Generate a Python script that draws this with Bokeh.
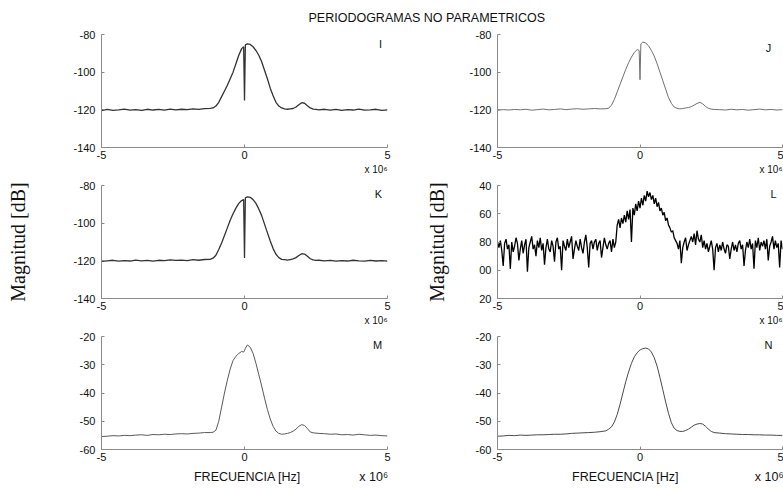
import numpy as np
from bokeh.plotting import figure
from bokeh.layouts import column, row
from bokeh.models import Range1d, FixedTicker, Label, Title
from bokeh.embed import file_html
from bokeh.resources import INLINE

TITLE = "PERIODOGRAMAS NO PARAMETRICOS"
Y_LABEL = "Magnitud [dB]"
X_LABEL = "FRECUENCIA [Hz]"
X_MULT = "x 10\u2076"
NBSP = "\u00a0"
X_LABEL_PAD = [(27, 17), (22, 22)]   # (before, between) per column
X_TICKS = [-5, 0, 5]
X_TICK_LABELS = ["-5", "0", "5"]

# frequency (x 10^6 Hz) for the smooth periodograms
FREQ = [-5.0, -4.8, -4.6, -4.4, -4.2, -4.0, -3.8, -3.6, -3.4, -3.2,
        -3.0, -2.8, -2.6, -2.4, -2.2, -2.0, -1.8, -1.6, -1.4, -1.2,
        -1.1, -1.0, -0.9, -0.8, -0.7, -0.6, -0.5, -0.4, -0.3, -0.2, -0.1,
        -0.03, 0.0, 0.03,
        0.1, 0.2, 0.3, 0.4, 0.5, 0.6, 0.7, 0.8, 0.9, 1.0, 1.1, 1.2,
        1.3, 1.4, 1.5, 1.6, 1.7, 1.8, 1.9, 2.0, 2.1, 2.2, 2.3, 2.4, 2.5, 2.6,
        2.8, 3.0, 3.2, 3.4, 3.6, 3.8, 4.0, 4.2, 4.4, 4.6, 4.8, 5.0]

MAG_I = [-120.4, -119.8, -120.3, -120.0, -119.6, -120.2, -119.9, -120.3, -119.7, -120.1,
         -119.8, -120.2, -119.6, -120.0, -119.7, -119.9, -119.5, -119.8, -119.4, -119.2,
         -119.0, -118.0, -116.0, -113.0, -110.0, -107.0, -103.5, -100.0, -95.5, -91.0, -87.5,
         -86.5, -115.0, -85.5,
         -85.0, -85.3, -86.5, -88.5, -91.0, -94.5, -99.0, -103.5, -108.5, -112.5, -116.0, -118.0,
         -119.0, -119.5, -119.7, -119.5, -119.3, -118.5, -117.3, -116.2, -116.5, -117.8, -119.0, -119.6, -119.8, -120.0,
         -119.7, -120.2, -119.8, -120.3, -119.9, -120.1, -119.6, -120.2, -120.0, -119.7, -120.3, -120.0]

MAG_J = [-120.2, -119.9, -120.1, -119.8, -120.0, -119.7, -120.2, -119.9, -119.6, -120.0,
         -119.8, -119.5, -119.9, -119.6, -119.4, -119.7, -119.5, -119.3, -119.5, -119.4,
         -119.2, -117.5, -114.5, -110.5, -106.5, -102.5, -98.5, -95.0, -92.0, -89.5, -88.0,
         -88.5, -104.0, -85.0,
         -84.0, -84.5, -86.0, -88.5, -91.5, -95.5, -100.0, -104.5, -109.0, -113.5, -116.5, -118.5,
         -119.2, -119.5, -119.3, -119.0, -118.8, -118.3, -117.5, -116.6, -116.0, -116.8, -118.2, -119.2, -119.6, -119.8,
         -119.9, -120.1, -119.7, -120.0, -119.8, -120.2, -119.9, -119.6, -120.0, -119.8, -120.1, -119.9]

MAG_K = [-120.3, -120.0, -119.7, -120.2, -119.9, -120.1, -119.6, -120.0, -119.8, -120.2,
         -119.7, -119.9, -119.5, -119.8, -119.6, -119.9, -119.4, -119.7, -119.3, -119.2,
         -118.6, -117.0, -114.0, -110.5, -106.5, -102.5, -98.5, -95.0, -92.0, -89.5, -88.0,
         -87.5, -118.5, -86.5,
         -86.0, -86.3, -87.5, -89.5, -92.5, -96.0, -100.5, -105.0, -109.5, -113.5, -116.5, -118.3,
         -119.2, -119.4, -119.6, -119.3, -119.0, -118.3, -117.2, -116.2, -116.4, -117.6, -118.9, -119.5, -119.8, -119.7,
         -120.0, -119.8, -120.2, -119.9, -120.1, -119.7, -120.0, -120.2, -119.8, -120.1, -119.9, -120.2]

MAG_M = [-55.4, -55.3, -55.1, -55.2, -55.0, -55.1, -54.9, -54.8, -55.0, -54.7,
         -54.8, -54.6, -54.7, -54.5, -54.4, -54.5, -54.3, -54.2, -54.0, -54.0,
         -53.9, -53.2, -50.0, -45.0, -40.0, -35.5, -31.5, -28.5, -27.0, -26.0, -25.3,
         -25.5, -25.0, -24.2,
         -23.0, -23.8, -26.0, -29.5, -33.5, -37.5, -41.8, -45.8, -49.2, -51.8, -53.5, -54.3,
         -54.6, -54.5, -54.3, -54.0, -53.5, -52.8, -51.8, -51.2, -51.5, -52.6, -53.8, -54.1, -54.2, -54.3,
         -54.4, -54.6, -54.5, -54.8, -54.7, -54.9, -54.6, -54.8, -55.0, -54.9, -55.1, -55.2]

MAG_N = [-55.3, -55.2, -55.0, -55.1, -54.9, -55.0, -54.9, -54.8, -54.8, -54.7,
         -54.6, -54.6, -54.5, -54.3, -54.2, -54.1, -54.0, -53.9, -53.7, -53.4,
         -52.8, -52.0, -50.3, -47.6, -44.0, -40.0, -36.0, -32.5, -29.5, -27.2, -25.8,
         -25.0, -24.8, -24.6,
         -24.3, -24.1, -24.4, -25.5, -27.5, -30.5, -34.5, -38.8, -43.2, -47.2, -50.5, -52.5,
         -53.3, -53.6, -53.6, -53.3, -52.8, -52.1, -51.4, -51.0, -50.8, -51.0, -51.8, -52.8, -53.6, -54.0,
         -54.2, -54.4, -54.5, -54.6, -54.7, -54.7, -54.8, -54.8, -54.9, -54.9, -55.0, -55.0]

# noisy periodogram L, one value per frequency bin (bins of 0.05 x 10^6 Hz)
L_FREQ = np.round(np.arange(-100, 101) * 0.05, 2)
MAG_L = [-80, -84, -79, -86, -97, -81, -78, -85, -82, -99,
         -80, -87, -83, -77, -81, -93, -85, -79, -88, -82,
         -78, -101, -84, -80, -76, -85, -82, -90, -79, -84,
         -77, -86, -81, -96, -84, -78, -85, -87, -79, -83,
         -94, -80, -77, -85, -83, -100, -79, -83, -86, -78,
         -84, -80, -76, -92, -85, -79, -83, -86, -78, -84,
         -88, -80, -75, -84, -98, -81, -79, -85, -80, -78,
         -86, -81, -79, -91, -84, -77, -82, -85, -81, -79,
         -87, -78, -84, -80,
         -68, -64, -70, -63, -67, -61, -66, -58, -64, -57,
         -80, -56, -61, -53, -58, -51, -56, -49, -54, -47,
         -51, -44, -48, -45, -50, -47, -53, -49, -55, -52,
         -58, -56, -61, -59, -65, -63, -68, -70, -73, -72,
         -77, -79, -81,
         -85, -79, -95, -84, -80, -77, -86, -82, -79, -76,
         -80, -74, -82, -72, -78, -80, -75, -84, -79, -85,
         -81, -87, -83, -79, -85, -100, -84, -81, -87, -82,
         -86, -80, -85, -88, -82, -83, -92, -85, -80, -86,
         -82, -87, -81, -79, -85, -82, -97, -86, -80, -84,
         -78, -85, -81, -99, -79, -84, -77, -86, -80, -83,
         -79, -85, -78, -93, -83, -80, -76, -85, -79, -84,
         -81, -98, -79, -85]

Y_TICKS_DB120 = [-140, -120, -100, -80]
Y_LABELS_DB120 = ["-140", "-120", "-100", "-80"]
Y_TICKS_L = [-120, -100, -80, -60, -40]
Y_LABELS_L = ["20", "00", "80", "60", "40"]
Y_TICKS_DB60 = [-60, -50, -40, -30, -20]
Y_LABELS_DB60 = ["-60", "-50", "-40", "-30", "-20"]

PANELS = [
    dict(name="I", x=FREQ, y=MAG_I, yr=(-140, -80), yt=Y_TICKS_DB120, yl=Y_LABELS_DB120, color="#333333", lw=1.3),
    dict(name="J", x=FREQ, y=MAG_J, yr=(-140, -80), yt=Y_TICKS_DB120, yl=Y_LABELS_DB120, color="#707070", lw=1.0),
    dict(name="K", x=FREQ, y=MAG_K, yr=(-140, -80), yt=Y_TICKS_DB120, yl=Y_LABELS_DB120, color="#333333", lw=1.3),
    dict(name="L", x=L_FREQ, y=MAG_L, yr=(-120, -40), yt=Y_TICKS_L, yl=Y_LABELS_L, color="#000000", lw=1.3),
    dict(name="M", x=FREQ, y=MAG_M, yr=(-60, -20), yt=Y_TICKS_DB60, yl=Y_LABELS_DB60, color="#5a5a5a", lw=1.0),
    dict(name="N", x=FREQ, y=MAG_N, yr=(-60, -20), yt=Y_TICKS_DB60, yl=Y_LABELS_DB60, color="#4a4a4a", lw=1.0),
]

LETTER_OFFSETS = {"I": (-7, -9), "J": (-14, -13), "K": (-9, -8), "L": (-9, -8), "M": (-10, -8), "N": (-14, -8)}
SANS = "Liberation Sans"
SERIF = "Liberation Serif"
AXIS_COLOR = "#8a8a8a"
TEXT_COLOR = "#111111"

HEAD_H = 26
FRAME_H = 113
FRAME_W = [286, 285]
ROW_TOP = [8, 8, 8]
ROW_BOTTOM = [30, 30, 40]
MULT_STANDOFF = 0
COL_BORDER_L = [101, 101]
COL_BORDER_R = [9, 1]
YLABEL_STANDOFF = [41, 28]


def make_panel(spec, col, r):
    p = figure(width=COL_BORDER_L[col] + FRAME_W[col] + COL_BORDER_R[col],
               height=ROW_TOP[r] + FRAME_H + ROW_BOTTOM[r],
               x_range=Range1d(-5, 5), y_range=Range1d(*spec["yr"]),
               toolbar_location=None, output_backend="svg",
               min_border_left=COL_BORDER_L[col], min_border_right=COL_BORDER_R[col],
               min_border_top=ROW_TOP[r], min_border_bottom=ROW_BOTTOM[r],
               outline_line_color=None, background_fill_color="white",
               border_fill_color="white")
    p.line(spec["x"], spec["y"], line_color=spec["color"], line_width=spec["lw"])
    p.grid.visible = False
    p.xaxis.ticker = FixedTicker(ticks=X_TICKS)
    p.xaxis.major_label_overrides = dict(zip(X_TICKS, X_TICK_LABELS))
    p.yaxis.ticker = FixedTicker(ticks=spec["yt"])
    p.yaxis.major_label_overrides = dict(zip(spec["yt"], spec["yl"]))
    for ax in (p.xaxis[0], p.yaxis[0]):
        ax.axis_line_color = AXIS_COLOR
        ax.major_tick_line_color = AXIS_COLOR
        ax.major_tick_in = 3
        ax.major_tick_out = 0
        ax.minor_tick_line_color = None
        ax.major_label_text_font = SANS
        ax.major_label_text_font_size = "11px"
        ax.major_label_text_color = TEXT_COLOR
    p.xaxis.major_label_standoff = 3
    p.yaxis.major_label_standoff = 6
    if r == 1:
        p.yaxis.axis_label = Y_LABEL
        p.yaxis.axis_label_text_font = SERIF
        p.yaxis.axis_label_text_font_size = "20px"
        p.yaxis.axis_label_text_font_style = "normal"
        p.yaxis.axis_label_text_color = TEXT_COLOR
        p.yaxis.axis_label_standoff = YLABEL_STANDOFF[col]
    if r == 2:
        before, between = X_LABEL_PAD[col]
        p.xaxis.axis_label = NBSP * before + X_LABEL + NBSP * between + X_MULT
        p.xaxis.axis_label_text_font = SANS
        p.xaxis.axis_label_text_font_size = "12.5px"
        p.xaxis.axis_label_text_font_style = "normal"
        p.xaxis.axis_label_text_color = TEXT_COLOR
        p.xaxis.axis_label_standoff = 6
    else:
        p.add_layout(Title(text=X_MULT, align="right", standoff=MULT_STANDOFF,
                           text_font=SANS, text_font_size="10px", text_font_style="normal",
                           text_color=TEXT_COLOR), "below")
    dx, dy = LETTER_OFFSETS[spec["name"]]
    p.add_layout(Label(x=5, y=spec["yr"][1], x_offset=dx, y_offset=dy, text=spec["name"],
                       text_align="center", text_baseline="middle", text_font=SANS,
                       text_font_size="11px", text_color=TEXT_COLOR))
    return p


figs = [make_panel(s, i % 2, i // 2) for i, s in enumerate(PANELS)]

head = figure(width=783, height=HEAD_H, x_range=Range1d(0, 1), y_range=Range1d(0, 1),
              x_axis_location=None, y_axis_location=None, toolbar_location=None,
              output_backend="svg", min_border_left=0, min_border_right=0,
              min_border_bottom=0, min_border_top=24, outline_line_color=None)
head.grid.visible = False
head.title.text = TITLE
head.title.align = "left"
head.title.offset = 308
head.title.standoff = 0
head.title.text_font = SANS
head.title.text_font_size = "12.5px"
head.title.text_font_style = "normal"
head.title.text_color = TEXT_COLOR

layout = column(head, row(figs[0], figs[1]), row(figs[2], figs[3]), row(figs[4], figs[5]))

with open("out.html", "w") as f:
    f.write(file_html(layout, INLINE))
